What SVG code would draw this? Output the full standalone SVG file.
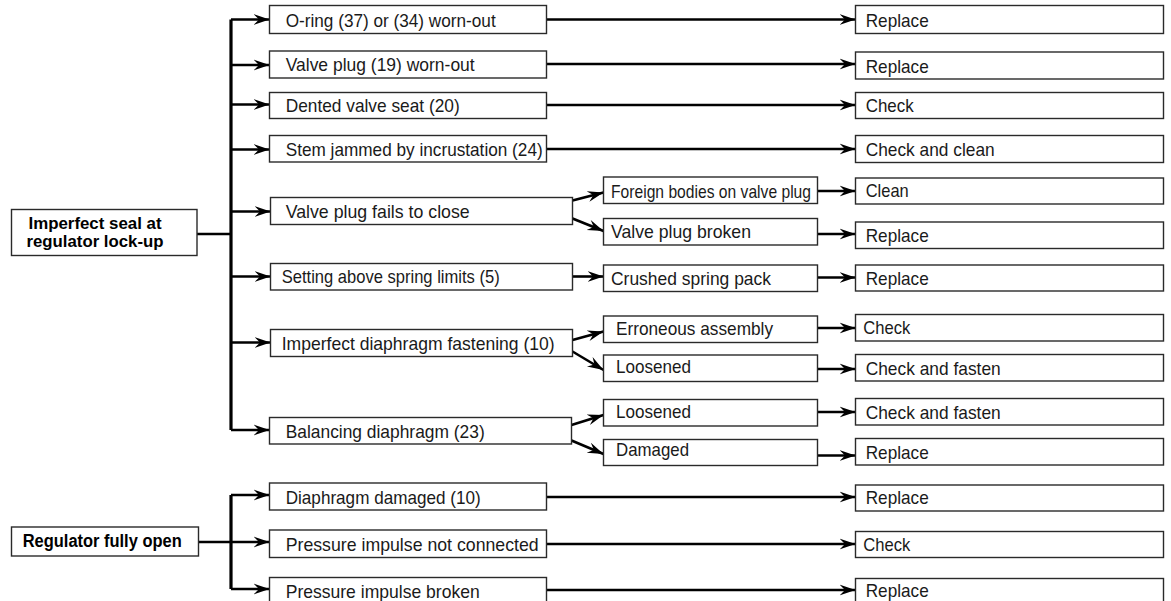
<svg xmlns="http://www.w3.org/2000/svg" width="1171" height="601" viewBox="0 0 1171 601">
<style>
.box{fill:#fff;stroke:#2a2a2a;stroke-width:1.4}
.t{font-family:"Liberation Sans Narrow","Liberation Sans",Arial,sans-serif;font-size:19px;fill:#1a1a1a}
.tb{font-family:"Liberation Sans Narrow","Liberation Sans",Arial,sans-serif;font-size:18px;font-weight:bold;fill:#000}
.tb2{font-size:17px}
.ln{fill:none;stroke:#000;stroke-width:2.6}
.tr{fill:none;stroke:#000;stroke-width:3.2}
.ar{fill:none;stroke:#000;stroke-width:2.6;marker-end:url(#ah)}
</style>
<defs>
<marker id="ah" markerUnits="userSpaceOnUse" markerWidth="18" markerHeight="14" refX="16" refY="6" orient="auto" viewBox="0 0 18 12">
<path d="M0,0.5 L16,6 L0,11.5 L5.5,6 Z" fill="#000"/>
</marker>
</defs>

<g id="connectors">
<path class="tr" d="M231,430 V19.5"/>
<path class="ln" d="M197,234 H231"/>
<path class="ar" d="M231,19.5 H269.5"/>
<path class="ar" d="M231,65 H269.5"/>
<path class="ar" d="M231,104.5 H269.5"/>
<path class="ar" d="M231,149.5 H269.5"/>
<path class="ar" d="M231,211.5 H270.5"/>
<path class="ar" d="M231,276.5 H270.5"/>
<path class="ar" d="M231,342.5 H270.5"/>
<path class="ar" d="M231,430 H269.5"/>
<path class="tr" d="M231,589 V495"/>
<path class="ln" d="M198,542 H231"/>
<path class="ar" d="M231,495 H269.5"/>
<path class="ar" d="M231,542 H269.5"/>
<path class="ar" d="M231,589 H269.5"/>
<path class="ar" d="M546.5,19.5 H855.5"/>
<path class="ar" d="M546.5,64 H855.5"/>
<path class="ar" d="M546.5,105 H855.5"/>
<path class="ar" d="M546.5,149 H855.5"/>
<path class="ar" d="M546.5,497 H855.5"/>
<path class="ar" d="M546.5,544 H855.5"/>
<path class="ar" d="M546.5,590 H855.5"/>
<path class="ar" d="M572.5,200.5 L603.5,192.5"/>
<path class="ar" d="M572.5,218.5 L603.5,231"/>
<path class="ar" d="M572.5,276.5 H603.5"/>
<path class="ar" d="M572.5,340 L603.5,331.5"/>
<path class="ar" d="M572.5,351.5 L603.5,370"/>
<path class="ar" d="M571.5,425 L603.5,415"/>
<path class="ar" d="M571.5,440.5 L603.5,454"/>
<path class="ar" d="M817.5,191 H855.5"/>
<path class="ar" d="M817.5,234 H855.5"/>
<path class="ar" d="M817.5,277.5 H855.5"/>
<path class="ar" d="M817.5,328 H855.5"/>
<path class="ar" d="M817.5,369 H855.5"/>
<path class="ar" d="M817.5,412 H855.5"/>
<path class="ar" d="M817.5,455.5 H855.5"/>
</g>

<g id="root1"><rect class="box" x="11.5" y="209.5" width="185.5" height="46"/>
<text class="tb tb2" x="28.5" y="228.5" textLength="133" lengthAdjust="spacingAndGlyphs">Imperfect seal at</text>
<text class="tb tb2" x="26.5" y="246.5" textLength="137" lengthAdjust="spacingAndGlyphs">regulator lock-up</text></g>
<g id="root2"><rect class="box" x="11.5" y="527" width="187" height="29"/>
<text class="tb" x="22.7" y="547" textLength="159" lengthAdjust="spacingAndGlyphs">Regulator fully open</text></g>

<g id="c1"><rect class="box" x="269.5" y="5.5" width="277" height="28"/><text class="t" x="285.7" y="27" textLength="210" lengthAdjust="spacingAndGlyphs">O-ring (37) or (34) worn-out</text></g>
<g id="c2"><rect class="box" x="269.5" y="51" width="277" height="27"/><text class="t" x="285.7" y="71" textLength="189" lengthAdjust="spacingAndGlyphs">Valve plug (19) worn-out</text></g>
<g id="c3"><rect class="box" x="269.5" y="92.5" width="277" height="26"/><text class="t" x="285.7" y="112" textLength="174" lengthAdjust="spacingAndGlyphs">Dented valve seat (20)</text></g>
<g id="c4"><rect class="box" x="269.5" y="135.5" width="277" height="26.5"/><text class="t" x="285.7" y="155.5" textLength="257" lengthAdjust="spacingAndGlyphs">Stem jammed by incrustation (24)</text></g>
<g id="c5"><rect class="box" x="270.5" y="197.5" width="302" height="27"/><text class="t" x="285.7" y="217.5" textLength="184" lengthAdjust="spacingAndGlyphs">Valve plug fails to close</text></g>
<g id="c6"><rect class="box" x="270.5" y="263.5" width="302" height="26.5"/><text class="t" x="281.7" y="283" textLength="218" lengthAdjust="spacingAndGlyphs">Setting above spring limits (5)</text></g>
<g id="c7"><rect class="box" x="270.5" y="329.5" width="302" height="27"/><text class="t" x="281.7" y="350" textLength="273" lengthAdjust="spacingAndGlyphs">Imperfect diaphragm fastening (10)</text></g>
<g id="c8"><rect class="box" x="269.5" y="417.5" width="302" height="26.5"/><text class="t" x="285.7" y="438" textLength="199" lengthAdjust="spacingAndGlyphs">Balancing diaphragm (23)</text></g>
<g id="c9"><rect class="box" x="269.5" y="483" width="277" height="27"/><text class="t" x="285.7" y="503.5" textLength="195" lengthAdjust="spacingAndGlyphs">Diaphragm damaged (10)</text></g>
<g id="c10"><rect class="box" x="269.5" y="530" width="277" height="27.5"/><text class="t" x="285.7" y="551" textLength="253" lengthAdjust="spacingAndGlyphs">Pressure impulse not connected</text></g>
<g id="c11"><rect class="box" x="269.5" y="577.5" width="277" height="27"/><text class="t" x="285.7" y="597.5" textLength="194" lengthAdjust="spacingAndGlyphs">Pressure impulse broken</text></g>

<g id="m1"><rect class="box" x="603.5" y="177" width="214" height="26.5"/><text class="t" x="611" y="198" textLength="200" lengthAdjust="spacingAndGlyphs">Foreign bodies on valve plug</text></g>
<g id="m2"><rect class="box" x="603.5" y="218.5" width="214" height="26.5"/><text class="t" x="611" y="237.5" textLength="140" lengthAdjust="spacingAndGlyphs">Valve plug broken</text></g>
<g id="m3"><rect class="box" x="603.5" y="265" width="214" height="26.5"/><text class="t" x="611" y="285" textLength="160" lengthAdjust="spacingAndGlyphs">Crushed spring pack</text></g>
<g id="m4"><rect class="box" x="603.5" y="316" width="214" height="26.5"/><text class="t" x="616" y="334.5" textLength="157" lengthAdjust="spacingAndGlyphs">Erroneous assembly</text></g>
<g id="m5"><rect class="box" x="603.5" y="355" width="214" height="26.5"/><text class="t" x="616" y="373" textLength="75" lengthAdjust="spacingAndGlyphs">Loosened</text></g>
<g id="m6"><rect class="box" x="603.5" y="399.5" width="214" height="26.5"/><text class="t" x="616" y="417.5" textLength="75" lengthAdjust="spacingAndGlyphs">Loosened</text></g>
<g id="m7"><rect class="box" x="603.5" y="439.5" width="214" height="26"/><text class="t" x="616" y="456" textLength="73" lengthAdjust="spacingAndGlyphs">Damaged</text></g>

<g id="r1"><rect class="box" x="855.5" y="5.5" width="308" height="28"/><text class="t" x="865.7" y="27" textLength="63" lengthAdjust="spacingAndGlyphs">Replace</text></g>
<g id="r2"><rect class="box" x="855.5" y="52" width="308" height="27"/><text class="t" x="865.7" y="72.5" textLength="63" lengthAdjust="spacingAndGlyphs">Replace</text></g>
<g id="r3"><rect class="box" x="855.5" y="92.5" width="308" height="26"/><text class="t" x="865.7" y="112" textLength="48" lengthAdjust="spacingAndGlyphs">Check</text></g>
<g id="r4"><rect class="box" x="855.5" y="135.5" width="308" height="27"/><text class="t" x="865.7" y="156" textLength="129" lengthAdjust="spacingAndGlyphs">Check and clean</text></g>
<g id="r5"><rect class="box" x="855.5" y="178" width="308" height="26"/><text class="t" x="865.7" y="197" textLength="43" lengthAdjust="spacingAndGlyphs">Clean</text></g>
<g id="r6"><rect class="box" x="855.5" y="222" width="308" height="26.5"/><text class="t" x="865.7" y="242" textLength="63" lengthAdjust="spacingAndGlyphs">Replace</text></g>
<g id="r7"><rect class="box" x="855.5" y="265" width="308" height="26"/><text class="t" x="865.7" y="285" textLength="63" lengthAdjust="spacingAndGlyphs">Replace</text></g>
<g id="r8"><rect class="box" x="855.5" y="314.5" width="308" height="26.5"/><text class="t" x="863.3" y="334" textLength="47" lengthAdjust="spacingAndGlyphs">Check</text></g>
<g id="r9"><rect class="box" x="855.5" y="354.5" width="308" height="26.5"/><text class="t" x="865.7" y="374.5" textLength="135" lengthAdjust="spacingAndGlyphs">Check and fasten</text></g>
<g id="r10"><rect class="box" x="855.5" y="398.5" width="308" height="26.5"/><text class="t" x="865.7" y="418.5" textLength="135" lengthAdjust="spacingAndGlyphs">Check and fasten</text></g>
<g id="r11"><rect class="box" x="855.5" y="438.5" width="308" height="26.5"/><text class="t" x="865.7" y="458.5" textLength="63" lengthAdjust="spacingAndGlyphs">Replace</text></g>
<g id="r12"><rect class="box" x="855.5" y="485" width="308" height="26"/><text class="t" x="865.7" y="503.5" textLength="63" lengthAdjust="spacingAndGlyphs">Replace</text></g>
<g id="r13"><rect class="box" x="855.5" y="531.5" width="308" height="26"/><text class="t" x="863.3" y="551" textLength="47" lengthAdjust="spacingAndGlyphs">Check</text></g>
<g id="r14"><rect class="box" x="855.5" y="578.5" width="308" height="27"/><text class="t" x="865.7" y="597" textLength="63" lengthAdjust="spacingAndGlyphs">Replace</text></g>
</svg>
